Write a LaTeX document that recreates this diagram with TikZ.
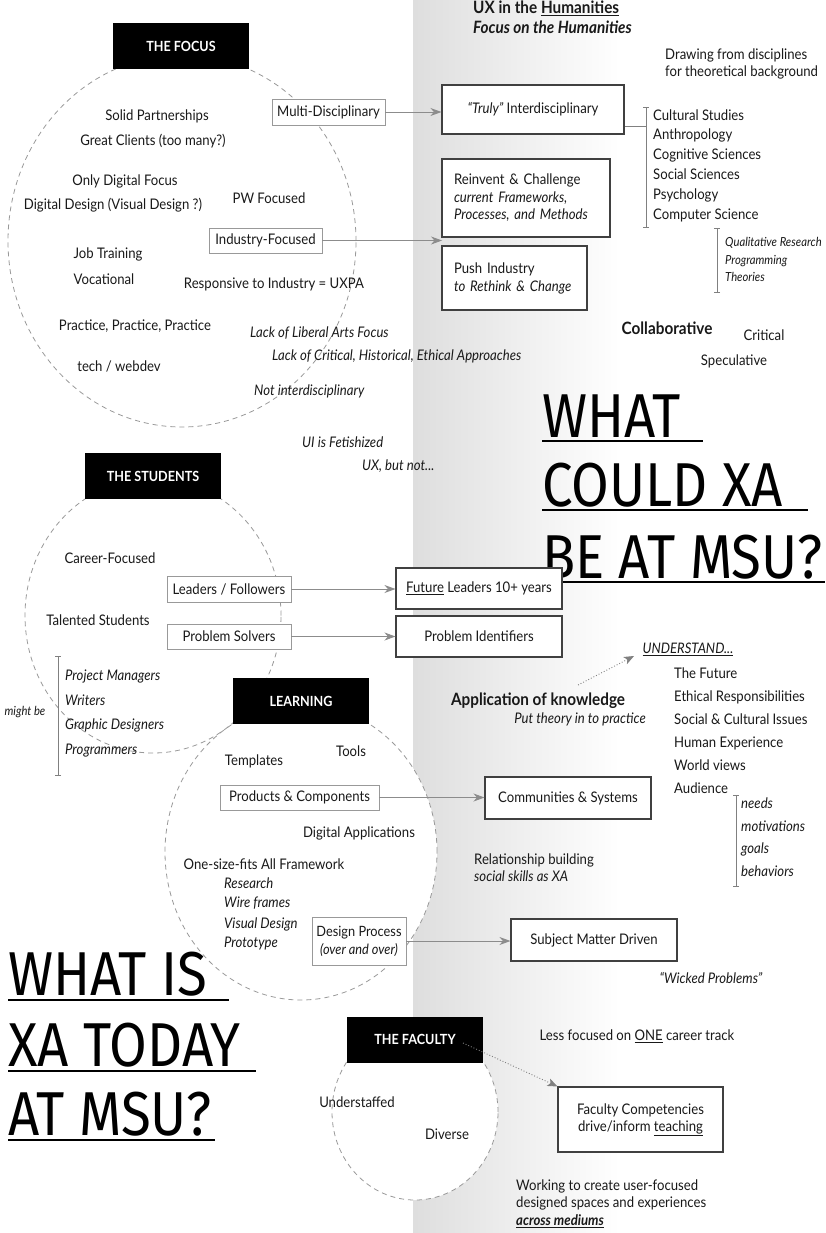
\documentclass[tikz,border=0pt]{standalone}
\usepackage{fontspec}
\setmainfont{Lato}[FakeStretch=0.9]
\newfontfamily\titlefont{Fira Sans}[FakeStretch=0.88]
\usetikzlibrary{arrows.meta,shapes.geometric}
\newcommand{\fb}{\fontsize{14.6}{17}\selectfont}
\newcommand{\fsm}{\fontsize{12.5}{14}\selectfont}
\newcommand{\ftitle}{\fontsize{62}{62}\selectfont\titlefont}
\begin{document}
\begin{tikzpicture}[x=1pt,y=-1pt,
  txt/.style={inner sep=0pt, anchor=mid, font=\fb, text=black!90},
  ltxt/.style={txt, anchor=mid west},
  itxt/.style={txt, font=\fb\itshape},
  litxt/.style={ltxt, font=\fb\itshape},
  smit/.style={ltxt, font=\fsm\itshape},
  hdr/.style={fill=black, text=white, font=\fontsize{14}{16}\selectfont\bfseries, minimum width=136pt, minimum height=46pt, inner sep=0pt},
  gbox/.style={draw=black!40, line width=0.9pt, fill=white, font=\fb, inner sep=0pt, text=black!90},
  kbox/.style={draw=black!75, line width=1.1pt, fill=white, font=\fb, inner sep=0pt, text=black!90},
  ring/.style={draw=black!40, dash pattern=on 5pt off 4pt, line width=0.8pt},
  conn/.style={draw=black!45, line width=0.9pt, -{Stealth[length=11pt,width=8pt,inset=3.5pt]}},
  dconn/.style={draw=black!50, line width=0.9pt, dotted, -{Stealth[length=10pt,width=8pt,inset=2.5pt]}},
  brk/.style={draw=black!50, line width=0.9pt, {Bar[width=6pt]}-{Bar[width=6pt]}},
  ttl/.style={inner sep=0pt, anchor=base west, font=\ftitle},
  uline/.style={line width=1.6pt}
]
\useasboundingbox (0,0) rectangle (825,1233);
\fill[white] (0,0) rectangle (825,1233);
\shade[left color=black!13, right color=white] (413,0) rectangle (620,1233);

% rings
\fill[white] (182,241) ellipse [x radius=174pt, y radius=186pt];
\fill[white] (153,615.5) ellipse [x radius=128pt, y radius=137.5pt];
\fill[white] (301,852) ellipse [x radius=136pt, y radius=148pt];
\fill[white] (415,1112) ellipse [x radius=83pt, y radius=88pt];
\draw[ring] (182,241) ellipse [x radius=174pt, y radius=186pt];
\draw[ring] (153,615.5) ellipse [x radius=128pt, y radius=137.5pt];
\draw[ring] (301,852) ellipse [x radius=136pt, y radius=148pt];
\draw[ring] (415,1112) ellipse [x radius=83pt, y radius=88pt];

% headers
\node[hdr] (hfocus) at (181,46) {THE FOCUS};
\node[hdr] (hstud) at (153,476) {THE STUDENTS};
\node[hdr] (hlearn) at (301,701) {LEARNING};
\node[hdr] (hfac) at (415,1039.5) {THE FACULTY};

% focus texts
\node[txt] (f1) at (157,118) {Solid Partnerships};
\node[txt] (f2) at (153,143) {Great Clients (too many?)};
\node[txt] (f3) at (125,183) {Only Digital Focus};
\node[txt] (f4) at (113,207) {Digital Design (Visual Design ?)};
\node[txt] (f5) at (269,201) {PW Focused};
\node[txt] (f6) at (108,256) {Job Training};
\node[txt] (f7) at (104,282) {Vocational};
\node[txt] (f8) at (274,286) {Responsive to Industry = UXPA};
\node[txt] (f9) at (135,328) {Practice, Practice, Practice};
\node[txt] (f10) at (119,369) {tech / webdev};
\node[litxt] (f11) at (250,335) {Lack of Liberal Arts Focus};
\node[litxt] (f12) at (272,358) {Lack of Critical, Historical, Ethical Approaches};
\node[litxt] (f13) at (254,393) {Not interdisciplinary};
\node[litxt] (f14) at (302,445) {UI is Fetishized};
\node[litxt] (f15) at (362,468) {UX, but not...};

\node[gbox, minimum width=113pt, minimum height=26pt] (md) at (328.5,112) {Multi-Disciplinary};
\node[gbox, minimum width=113pt, minimum height=25pt] (ind) at (265.5,240.5) {Industry-Focused};

% right top
\node[ltxt, font=\fontsize{17}{19}\selectfont\bfseries] (ux1) at (473,11) {UX in the \underline{Humanities}};
\node[ltxt, font=\fontsize{17}{19}\selectfont\bfseries\itshape] (ux2) at (473,31) {Focus on the Humanities};
\node[ltxt] (dr1) at (665,57) {Drawing from disciplines};
\node[ltxt] (dr2) at (665,74) {for theoretical background};

\node[kbox, minimum width=182pt, minimum height=49pt] (truly) at (533,109.5) {\textit{“Truly”} Interdisciplinary};
\node[kbox, minimum width=168pt, minimum height=78pt, align=left, text width=144pt, inner xsep=12pt, font=\fontsize{14.6}{17.5}\selectfont] (rein) at (526,198) {Reinvent \& Challenge\\\textit{current Frameworks,}\\\textit{Processes, and Methods}};
\node[kbox, minimum width=145pt, minimum height=64pt, align=left, text width=121pt, inner xsep=12pt, font=\fontsize{14.6}{18}\selectfont] (push) at (514.5,278) {Push Industry\\\textit{to Rethink \& Change}};
\coordinate (indend) at (442,240.5);

\draw[conn] (md.east) -- (md.east -| truly.west);
\draw[conn] (ind.east) -- (indend);

\coordinate (br1) at (646,126);
\draw[draw=black!50, line width=0.9pt] (truly.east |- br1) -- (br1);
\coordinate (b1a) at (646,107);
\coordinate (b1b) at (646,228);
\draw[brk] (b1a) -- (b1b);
\node[ltxt] (d1) at (653,118) {Cultural Studies};
\node[ltxt] (d2) at (653,137) {Anthropology};
\node[ltxt] (d3) at (653,157) {Cognitive Sciences};
\node[ltxt] (d4) at (653,177) {Social Sciences};
\node[ltxt] (d5) at (653,197) {Psychology};
\node[ltxt] (d6) at (653,217) {Computer Science};
\coordinate (b2a) at (717,228);
\coordinate (b2b) at (717,293);
\draw[brk] (b2a) -- (b2b);
\node[smit] (q1) at (725,244) {Qualitative Research};
\node[smit] (q2) at (725,262) {Programming};
\node[smit] (q3) at (725,279) {Theories};

\node[txt, font=\fontsize{17}{19}\selectfont\bfseries] (col) at (667,332) {Collaborative};
\node[txt] (cri) at (764,338) {Critical};
\node[txt] (spe) at (734,363) {Speculative};

% titles
\node[ttl] (tw1) at (542,437) {WHAT};
\node[ttl] (tw2) at (542,506) {COULD XA};
\node[ttl] (tw3) at (542,578) {BE AT MSU?};
\draw[uline] (542,441) -- (703,441);
\draw[uline] (542,510) -- (808,510);
\draw[uline] (542,582) -- (825,582);
\node[ttl] (tl1) at (8,995) {WHAT IS};
\node[ttl] (tl2) at (8,1066) {XA TODAY};
\node[ttl] (tl3) at (8,1135) {AT MSU?};
\draw[uline] (8,1000) -- (229,1000);
\draw[uline] (8,1071) -- (256,1071);
\draw[uline] (8,1140) -- (215,1140);

% students
\node[txt] (s1) at (110,561) {Career-Focused};
\node[txt] (s2) at (98,623) {Talented Students};
\node[gbox, minimum width=124pt, minimum height=26pt] (lead) at (229,589) {Leaders / Followers};
\node[gbox, minimum width=124pt, minimum height=25pt] (ps) at (229,636.5) {Problem Solvers};
\node[kbox, minimum width=166pt, minimum height=41pt] (fut) at (479,588.5) {\underline{Future} Leaders 10+ years};
\node[kbox, minimum width=166pt, minimum height=41pt] (pid) at (479,636.5) {Problem Identifiers};
\draw[conn] (lead.east) -- (lead.east -| fut.west);
\draw[conn] (ps.east) -- (ps.east -| pid.west);
\coordinate (b3a) at (58,656);
\coordinate (b3b) at (58,776);
\draw[brk] (b3a) -- (b3b);
\node[txt, font=\fsm\itshape] (mb) at (25,713) {might be};
\node[litxt] (r1) at (65,678) {Project Managers};
\node[litxt] (r2) at (65,703) {Writers};
\node[litxt] (r3) at (65,727) {Graphic Designers};
\node[litxt] (r4) at (65,752) {Programmers};

% learning
\node[txt] (l1) at (254,763) {Templates};
\node[txt] (l2) at (351,754) {Tools};
\node[gbox, minimum width=159pt, minimum height=25pt] (prod) at (299.5,797.5) {Products \& Components};
\node[kbox, minimum width=166pt, minimum height=42pt] (comm) at (568,798) {Communities \& Systems};
\draw[conn] (prod.east) -- (prod.east -| comm.west);
\node[txt] (l3) at (359,835) {Digital Applications};
\node[txt] (l4) at (264,867) {One-size-fits All Framework};
\node[litxt] (l5) at (224,886) {Research};
\node[litxt] (l6) at (224,905) {Wire frames};
\node[litxt] (l7) at (224,926) {Visual Design};
\node[litxt] (l8) at (224,945) {Prototype};
\node[gbox, minimum width=94pt, minimum height=48pt, align=center, font=\fontsize{14.2}{18}\selectfont] (dp) at (359,941) {Design Process\\\textit{(over and over)}};
\node[kbox, minimum width=166pt, minimum height=42pt] (smd) at (594,940) {Subject Matter Driven};
\draw[conn] (dp.east) -- (dp.east -| smd.west);
\node[itxt] (wp) at (711,981) {“Wicked Problems”};

% right middle
\node[txt, font=\fontsize{14.5}{16}\selectfont\itshape] (und) at (688,651) {\underline{UNDERSTAND...}};
\coordinate (aks) at (578,685);
\coordinate (ake) at (634,656);
\draw[dconn] (aks) -- (ake);
\node[txt, font=\fontsize{17}{19}\selectfont\bfseries] (ak) at (538,703) {Application of knowledge};
\node[itxt] (pt) at (580,721) {Put theory in to practice};
\node[ltxt] (u1) at (674,676) {The Future};
\node[ltxt] (u2) at (674,699) {Ethical Responsibilities};
\node[ltxt] (u3) at (674,722) {Social \& Cultural Issues};
\node[ltxt] (u4) at (674,745) {Human Experience};
\node[ltxt] (u5) at (674,768) {World views};
\node[ltxt] (u6) at (674,791) {Audience};
\coordinate (b4a) at (736,795);
\coordinate (b4b) at (736,887);
\draw[brk] (b4a) -- (b4b);
\node[litxt] (n1) at (741,806) {needs};
\node[litxt] (n2) at (741,829) {motivations};
\node[litxt] (n3) at (741,851) {goals};
\node[litxt] (n4) at (741,874) {behaviors};
\node[ltxt] (rb1) at (474,862) {Relationship building};
\node[litxt] (rb2) at (474,879) {social skills as XA};

% faculty
\node[txt] (fa1) at (357,1105) {Understaffed};
\node[txt] (fa2) at (447,1137) {Diverse};
\node[txt] (lf) at (637,1038) {Less focused on \underline{ONE} career track};
\node[kbox, minimum width=165pt, minimum height=65pt, align=center, font=\fontsize{14.6}{17}\selectfont] (fc) at (640.5,1119.5) {Faculty Competencies\\drive/inform \underline{teaching}};
\coordinate (fs) at (463,1043);
\draw[dconn] (fs) -- (fc.north west);
\node[ltxt] (w1) at (516,1188) {Working to create user-focused};
\node[ltxt] (w2) at (516,1205) {designed spaces and experiences};
\node[ltxt, font=\fb\bfseries\itshape] (w3) at (516,1223) {\underline{across mediums}};
\end{tikzpicture}
\end{document}
